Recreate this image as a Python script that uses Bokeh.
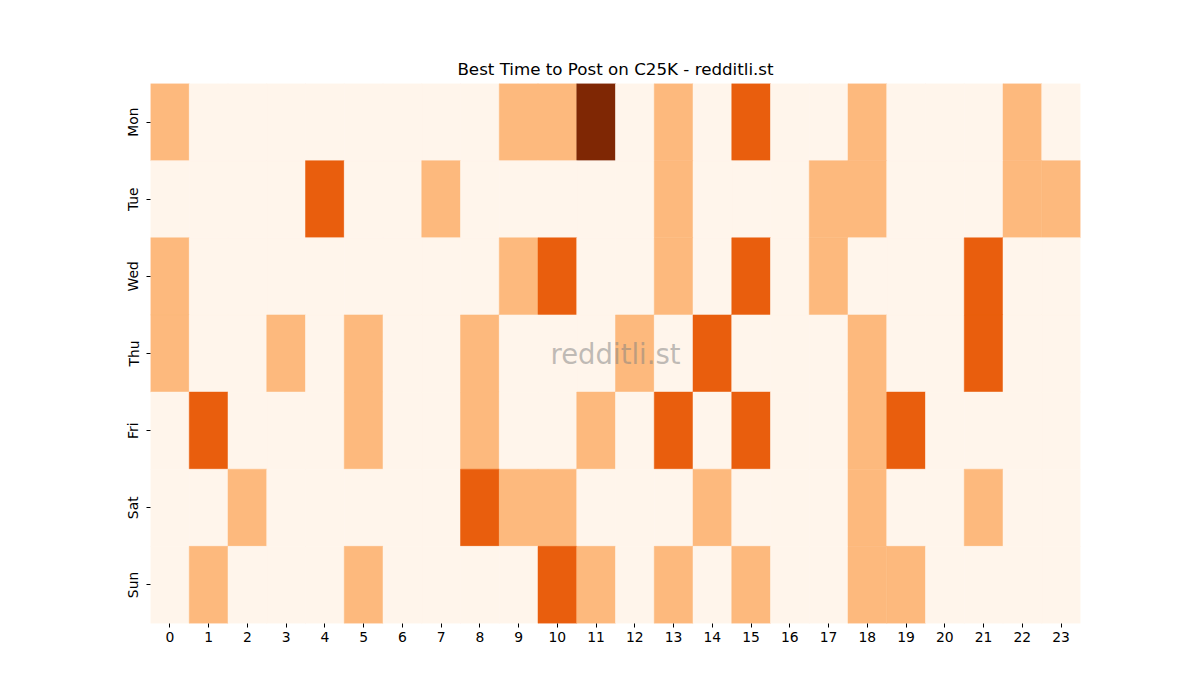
import numpy as np
import pandas as pd
from bokeh.plotting import figure
from bokeh.models import ColumnDataSource, FixedTicker, LinearColorMapper, Label
from bokeh.embed import file_html
from bokeh.resources import INLINE

# activity level per day and hour (0 = quiet ... 3 = best)
days = ["Mon", "Tue", "Wed", "Thu", "Fri", "Sat", "Sun"]
hours = list(range(24))

mon = [1, 0, 0, 0, 0, 0, 0, 0, 0, 1, 1, 3, 0, 1, 0, 2, 0, 0, 1, 0, 0, 0, 1, 0]
tue = [0, 0, 0, 0, 2, 0, 0, 1, 0, 0, 0, 0, 0, 1, 0, 0, 0, 1, 1, 0, 0, 0, 1, 1]
wed = [1, 0, 0, 0, 0, 0, 0, 0, 0, 1, 2, 0, 0, 1, 0, 2, 0, 1, 0, 0, 0, 2, 0, 0]
thu = [1, 0, 0, 1, 0, 1, 0, 0, 1, 0, 0, 0, 1, 0, 2, 0, 0, 0, 1, 0, 0, 2, 0, 0]
fri = [0, 2, 0, 0, 0, 1, 0, 0, 1, 0, 0, 1, 0, 2, 0, 2, 0, 0, 1, 2, 0, 0, 0, 0]
sat = [0, 0, 1, 0, 0, 0, 0, 0, 2, 1, 1, 0, 0, 0, 1, 0, 0, 0, 1, 0, 0, 1, 0, 0]
sun = [0, 1, 0, 0, 0, 1, 0, 0, 0, 0, 2, 1, 0, 1, 0, 1, 0, 0, 1, 1, 0, 0, 0, 0]

# oranges, light to dark
palette = ["#fff5eb", "#fdb97d", "#e95e0d", "#7f2704"]

rows = [mon, tue, wed, thu, fri, sat, sun]
df = pd.DataFrame(rows, index=days, columns=hours)
long_df = df.stack().reset_index()
long_df.columns = ["day", "hour", "count"]
long_df["x"] = long_df["hour"] + 0.5
long_df["y"] = long_df["day"].map({d: i + 0.5 for i, d in enumerate(days)})
source = ColumnDataSource(long_df)

p = figure(width=1184, height=684, x_range=(0, 24), y_range=(7, 0),
           output_backend="svg", toolbar_location=None,
           title="Best Time to Post on C25K - redditli.st",
           min_border_left=150, min_border_right=104,
           min_border_top=83, min_border_bottom=61)

mapper = LinearColorMapper(palette=palette, low=0, high=3)
p.rect(x="x", y="y", width=1, height=1, source=source,
       fill_color={"field": "count", "transform": mapper},
       line_color={"field": "count", "transform": mapper}, line_width=0.5)

# watermark
p.add_layout(Label(x=12, y=3.5, text="redditli.st", text_align="center",
                   text_baseline="middle", text_font_size="27.5px",
                   text_color="gray", text_alpha=0.5, text_font="DejaVu Sans"))

p.title.align = "center"
p.title.text_font = "DejaVu Sans"
p.title.text_font_size = "16.7px"
p.title.text_font_style = "normal"
p.title.text_color = "black"

p.xaxis.ticker = FixedTicker(ticks=[h + 0.5 for h in hours])
p.xaxis.major_label_overrides = {h + 0.5: str(h) for h in hours}
p.yaxis.ticker = FixedTicker(ticks=[i + 0.5 for i in range(len(days))])
p.yaxis.major_label_overrides = {i + 0.5: d for i, d in enumerate(days)}
p.yaxis.major_label_orientation = "vertical"

for ax in p.axis:
    ax.axis_line_color = None
    ax.minor_tick_line_color = None
    ax.major_tick_in = 0
    ax.major_tick_out = 4
    ax.major_tick_line_color = "black"
    ax.major_label_text_font = "DejaVu Sans"
    ax.major_label_text_font_size = "13.9px"
    ax.major_label_text_color = "black"
    ax.major_label_standoff = 4
p.yaxis.major_label_standoff = 5

p.grid.visible = False
p.outline_line_color = None

open("out.html", "w").write(file_html(p, INLINE))
